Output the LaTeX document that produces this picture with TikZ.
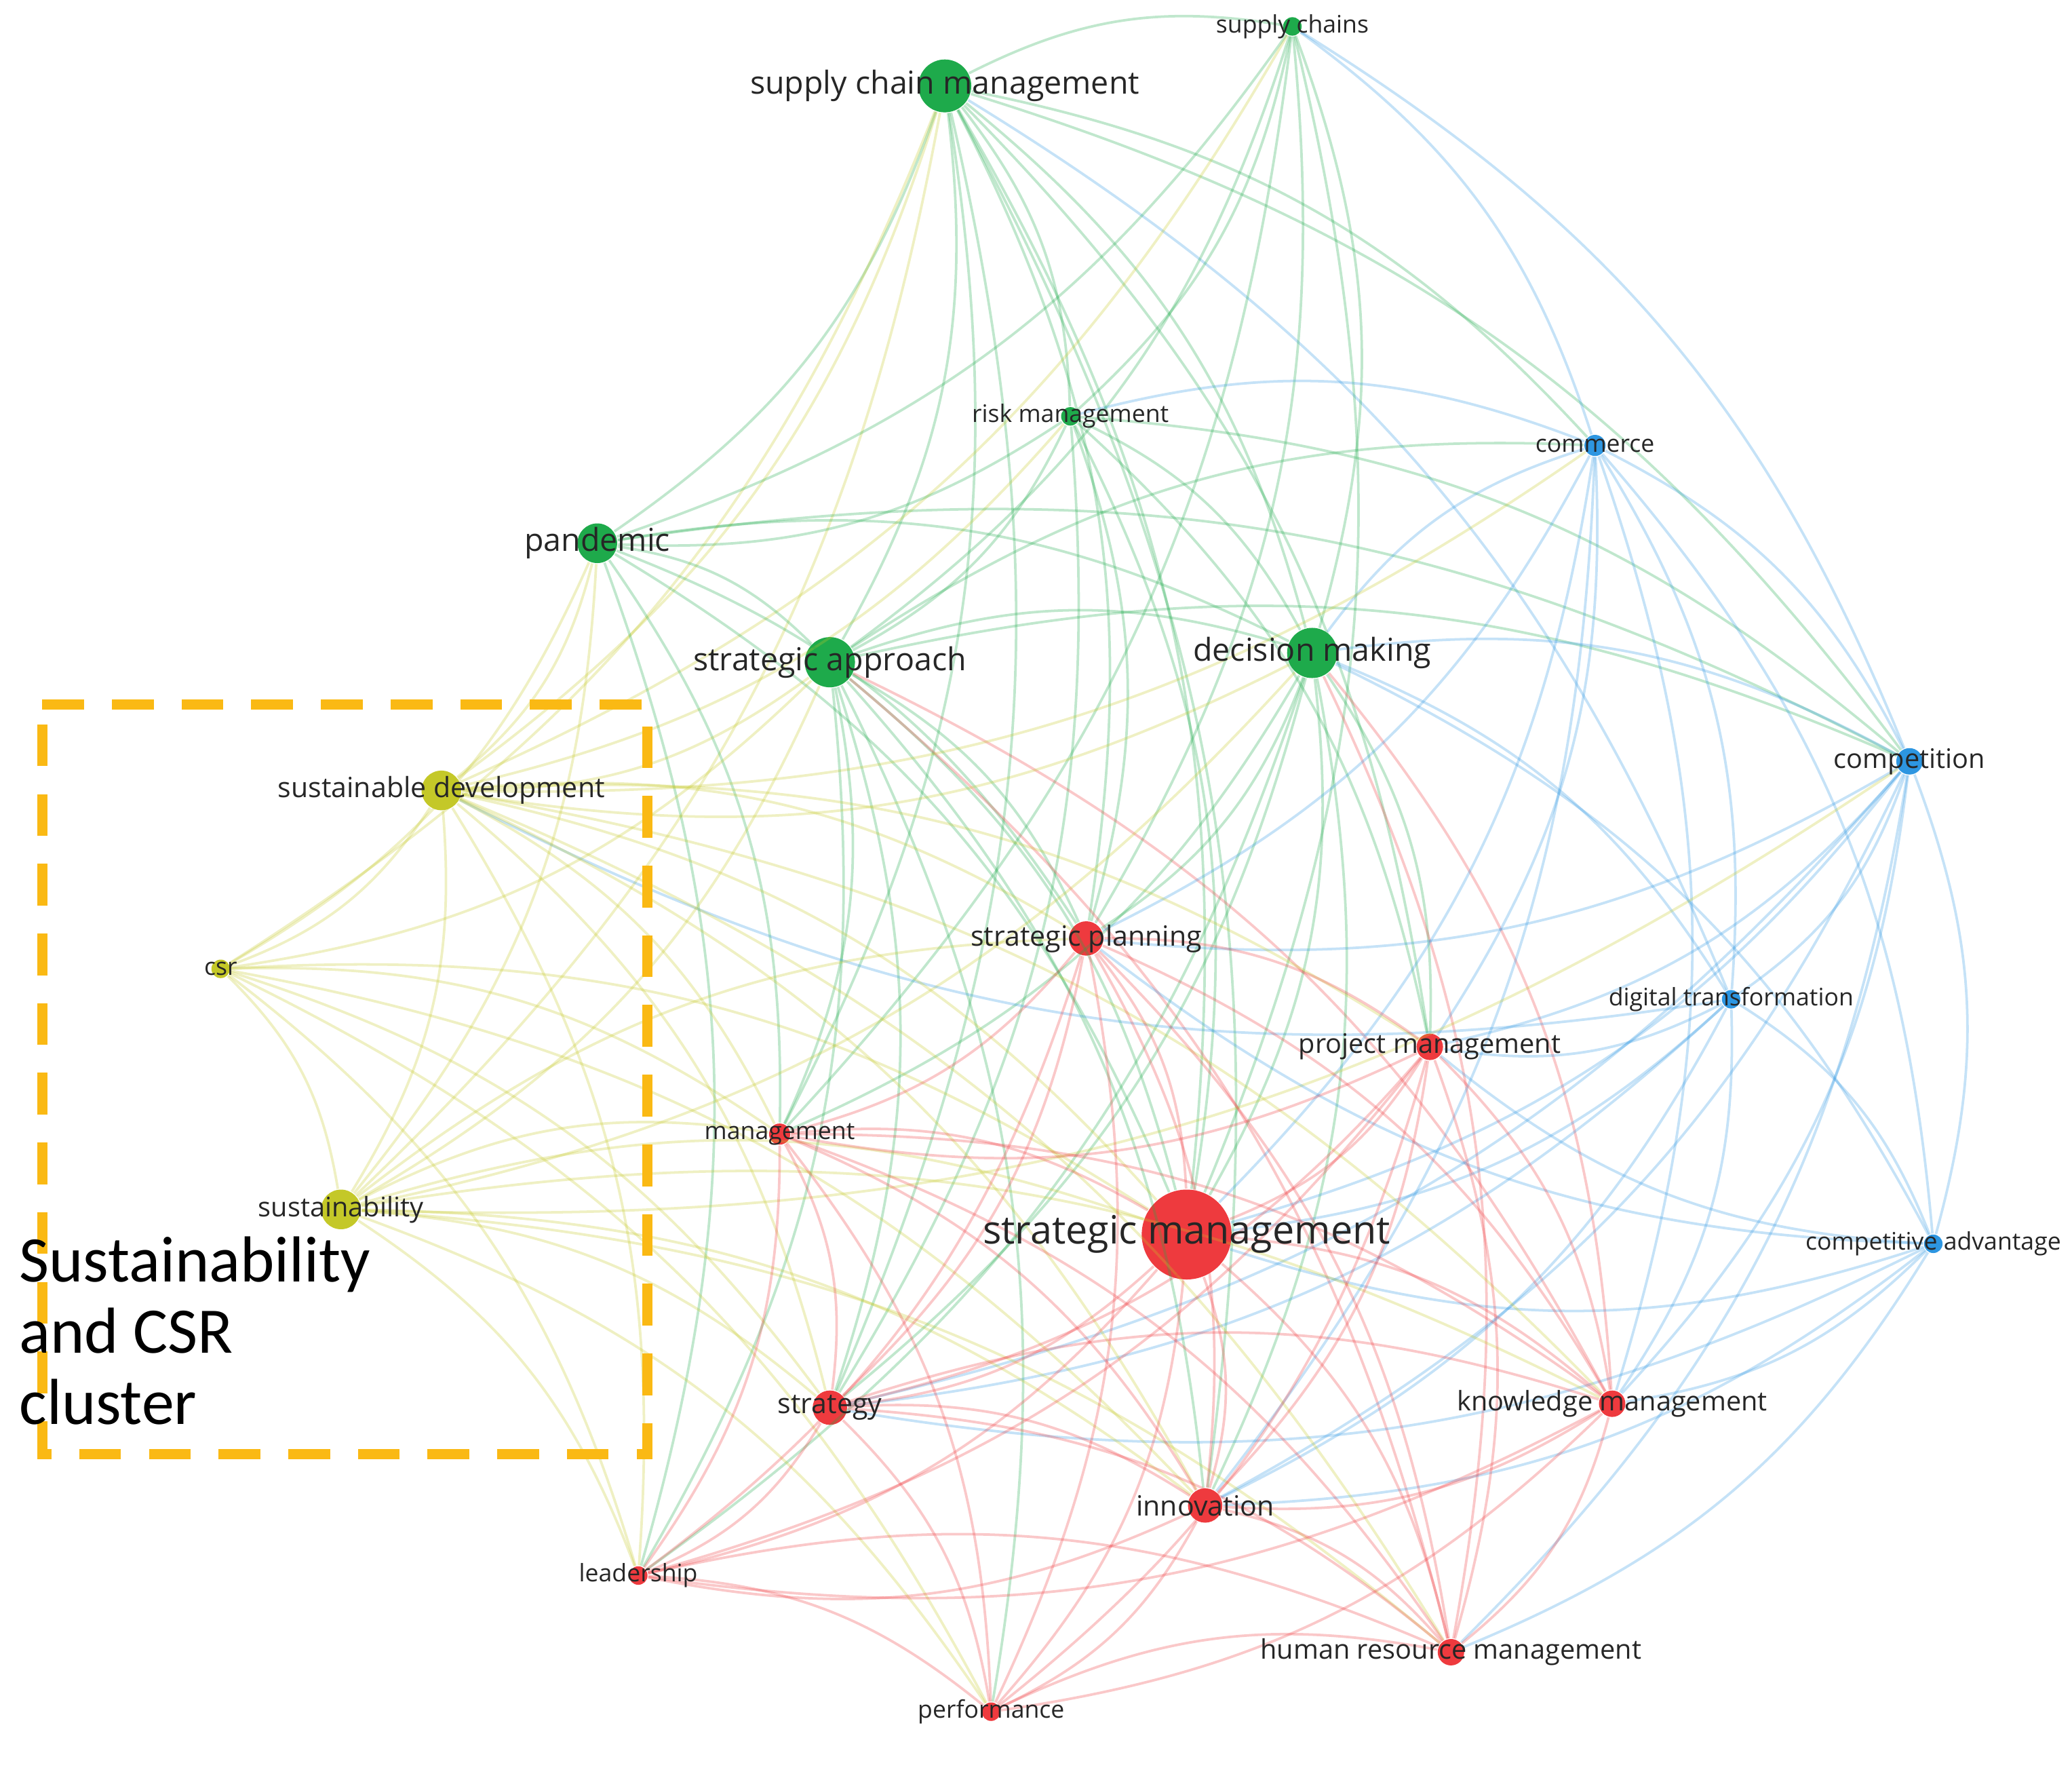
\documentclass[tikz,border=0pt]{standalone}
\usepackage{fontspec}
\setmainfont{Open Sans}
\newfontfamily\clusterfont{Carlito}
\definecolor{redc}{RGB}{238, 58, 62}
\definecolor{greenc}{RGB}{30, 170, 75}
\definecolor{bluec}{RGB}{45, 150, 225}
\definecolor{yellowc}{RGB}{196, 200, 40}
\definecolor{boxc}{RGB}{250, 185, 20}

\begin{document}
\begin{tikzpicture}[
        kw/.style={circle, inner sep=0pt, minimum size=#1},
        lab/.style={font=\fontsize{5.2}{6}\selectfont, text=black!85},
        biglab/.style={font=\fontsize{6.8}{8}\selectfont, text=black!85},
        edge/.style={#1, line width=0.55pt, opacity=0.28},
        box/.style={boxc, line width=2.2pt, dash pattern=on 9pt off 6pt}
    ]
        \useasboundingbox (0,0) rectangle (15.68,-13.42);

        % Keyword nodes
        \node[kw=0.40cm, fill=greenc] (scm) at (7.15,-0.65) {};
        \node[kw=0.14cm, fill=greenc] (sc) at (9.78,-0.20) {};
        \node[kw=0.14cm, fill=greenc] (risk) at (8.10,-3.15) {};
        \node[kw=0.16cm, fill=bluec] (comm) at (12.07,-3.37) {};
        \node[kw=0.30cm, fill=greenc] (pand) at (4.52,-4.11) {};
        \node[kw=0.38cm, fill=greenc] (sapp) at (6.28,-5.01) {};
        \node[kw=0.38cm, fill=greenc] (dec) at (9.93,-4.94) {};
        \node[kw=0.20cm, fill=bluec] (compet) at (14.45,-5.76) {};
        \node[kw=0.30cm, fill=yellowc] (sdev) at (3.34,-5.98) {};
        \node[kw=0.14cm, fill=yellowc] (csr) at (1.67,-7.33) {};
        \node[kw=0.26cm, fill=redc] (splan) at (8.22,-7.10) {};
        \node[kw=0.14cm, fill=bluec] (digi) at (13.10,-7.56) {};
        \node[kw=0.20cm, fill=redc] (proj) at (10.82,-7.92) {};
        \node[kw=0.16cm, fill=redc] (mgmt) at (5.90,-8.58) {};
        \node[kw=0.30cm, fill=yellowc] (sust) at (2.58,-9.15) {};
        \node[kw=0.68cm, fill=redc] (smgmt) at (8.98,-9.34) {};
        \node[kw=0.14cm, fill=bluec] (cadv) at (14.63,-9.41) {};
        \node[kw=0.26cm, fill=redc] (strat) at (6.28,-10.65) {};
        \node[kw=0.20cm, fill=redc] (know) at (12.20,-10.62) {};
        \node[kw=0.26cm, fill=redc] (innov) at (9.12,-11.39) {};
        \node[kw=0.14cm, fill=redc] (lead) at (4.83,-11.92) {};
        \node[kw=0.20cm, fill=redc] (hrm) at (10.98,-12.50) {};
        \node[kw=0.14cm, fill=redc] (perf) at (7.50,-12.95) {};

        % Links
        \foreach \a/\b/\c in {scm/sc/greenc, scm/risk/greenc, scm/pand/greenc, scm/sapp/greenc,
            scm/dec/greenc, scm/comm/greenc, scm/compet/greenc, scm/sdev/yellowc, scm/splan/greenc,
            scm/smgmt/greenc, scm/innov/greenc, scm/mgmt/greenc, scm/proj/greenc, scm/sust/yellowc,
            scm/csr/yellowc, scm/strat/greenc, scm/digi/bluec,
            sc/risk/greenc, sc/sapp/greenc, sc/dec/greenc, sc/pand/greenc, sc/comm/bluec,
            sc/compet/bluec, sc/smgmt/greenc, sc/splan/greenc, sc/mgmt/greenc, sc/sdev/yellowc,
            risk/pand/greenc, risk/sapp/greenc, risk/dec/greenc, risk/comm/bluec, risk/smgmt/greenc,
            risk/compet/greenc, risk/splan/greenc, risk/strat/greenc, risk/sdev/yellowc, risk/proj/greenc,
            pand/sapp/greenc, pand/dec/greenc, pand/sdev/yellowc, pand/sust/yellowc, pand/smgmt/greenc,
            pand/mgmt/greenc, pand/splan/greenc, pand/lead/greenc, pand/csr/yellowc, pand/compet/greenc,
            sapp/dec/greenc, sapp/sdev/yellowc, sapp/sust/yellowc, sapp/smgmt/greenc, sapp/strat/greenc,
            sapp/innov/greenc, sapp/compet/greenc, sapp/comm/greenc, sapp/splan/greenc, sapp/lead/greenc,
            sapp/know/redc, sapp/hrm/redc, sapp/csr/yellowc, sapp/mgmt/greenc, sapp/perf/greenc,
            dec/comm/bluec, dec/compet/bluec, dec/smgmt/greenc, dec/splan/greenc, dec/proj/greenc,
            dec/strat/greenc, dec/innov/greenc, dec/sust/yellowc, dec/sdev/yellowc, dec/digi/bluec,
            dec/cadv/bluec, dec/know/redc, dec/hrm/redc, dec/mgmt/greenc, dec/lead/greenc,
            comm/compet/bluec, comm/digi/bluec, comm/cadv/bluec, comm/smgmt/bluec, comm/proj/bluec,
            comm/know/bluec, comm/innov/bluec, comm/splan/bluec, comm/sdev/yellowc,
            compet/digi/bluec, compet/cadv/bluec, compet/smgmt/bluec, compet/proj/bluec,
            compet/know/bluec, compet/innov/bluec, compet/strat/bluec, compet/splan/bluec,
            compet/sust/yellowc, compet/hrm/bluec,
            digi/cadv/bluec, digi/smgmt/bluec, digi/proj/bluec, digi/know/bluec, digi/innov/bluec,
            digi/sdev/bluec, digi/strat/bluec,
            cadv/smgmt/bluec, cadv/know/bluec, cadv/innov/bluec, cadv/hrm/bluec, cadv/strat/bluec,
            cadv/proj/bluec, cadv/splan/bluec,
            sdev/csr/yellowc, sdev/sust/yellowc, sdev/smgmt/yellowc, sdev/strat/yellowc,
            sdev/mgmt/yellowc, sdev/splan/yellowc, sdev/innov/yellowc, sdev/lead/yellowc, sdev/proj/yellowc,
            sdev/know/yellowc, sdev/hrm/yellowc,
            csr/sust/yellowc, csr/smgmt/yellowc, csr/strat/yellowc, csr/lead/yellowc, csr/perf/yellowc,
            csr/mgmt/yellowc, csr/innov/yellowc,
            sust/smgmt/yellowc, sust/strat/yellowc, sust/mgmt/yellowc, sust/innov/yellowc,
            sust/lead/yellowc, sust/perf/yellowc, sust/splan/yellowc, sust/hrm/yellowc, sust/know/yellowc,
            splan/smgmt/redc, splan/proj/redc, splan/mgmt/redc, splan/strat/redc, splan/innov/redc,
            splan/know/redc, splan/hrm/redc, splan/lead/redc, splan/perf/redc,
            proj/smgmt/redc, proj/know/redc, proj/innov/redc, proj/hrm/redc, proj/strat/redc, proj/mgmt/redc,
            proj/lead/redc, proj/perf/redc,
            mgmt/smgmt/redc, mgmt/strat/redc, mgmt/innov/redc, mgmt/lead/redc, mgmt/perf/redc, mgmt/hrm/redc,
            mgmt/know/redc,
            smgmt/strat/redc, smgmt/know/redc, smgmt/innov/redc, smgmt/lead/redc, smgmt/hrm/redc,
            smgmt/perf/redc,
            strat/innov/redc, strat/lead/redc, strat/perf/redc, strat/hrm/redc, strat/know/redc,
            know/innov/redc, know/hrm/redc, know/perf/redc, know/lead/redc,
            innov/lead/redc, innov/hrm/redc, innov/perf/redc,
            lead/perf/redc, lead/hrm/redc, perf/hrm/redc}
            \draw[edge=\c] (\a) to[bend left=18] (\b);

        % Labels
        \node[biglab] (scml) at (scm) {supply chain management};
        \node[lab] (scl) at (sc) {supply chains};
        \node[lab] (riskl) at (risk) {risk management};
        \node[lab] (comml) at (comm) {commerce};
        \node[biglab] (pandl) at (pand) {pandemic};
        \node[biglab] (sappl) at (sapp) {strategic approach};
        \node[biglab] (decl) at (dec) {decision making};
        \node[lab, font=\fontsize{5.8}{7}\selectfont] (competl) at (compet) {competition};
        \node[lab, font=\fontsize{6}{7}\selectfont] (sdevl) at (sdev) {sustainable development};
        \node[lab] (csrl) at (csr) {csr};
        \node[lab, font=\fontsize{6}{7}\selectfont] (splanl) at (splan) {strategic planning};
        \node[lab] (digil) at (digi) {digital transformation};
        \node[lab, font=\fontsize{5.8}{7}\selectfont] (projl) at (proj) {project management};
        \node[lab] (mgmtl) at (mgmt) {management};
        \node[lab, font=\fontsize{5.8}{7}\selectfont] (sustl) at (sust) {sustainability};
        \node[font=\fontsize{8.4}{10}\selectfont, text=black!85] (smgmtl) at (smgmt) {strategic management};
        \node[lab] (cadvl) at (cadv) {competitive advantage};
        \node[lab, font=\fontsize{6}{7}\selectfont] (stratl) at (strat) {strategy};
        \node[lab, font=\fontsize{5.8}{7}\selectfont] (knowl) at (know) {knowledge management};
        \node[lab, font=\fontsize{6}{7}\selectfont] (innovl) at (innov) {innovation};
        \node[lab] (leadl) at (lead) {leadership};
        \node[lab, font=\fontsize{5.8}{7}\selectfont] (hrml) at (hrm) {human resource management};
        \node[lab] (perfl) at (perf) {performance};

        % Cluster box
        \coordinate (boxtl) at (0.32,-5.33);
        \coordinate (boxbr) at (4.90,-11.00);
        \draw[box] (boxtl) -| (boxbr) -| (boxtl);
        \node[anchor=north west, align=left, inner sep=0pt, font=\clusterfont\fontsize{14}{15.3}\selectfont]
            (cluster) at (0.14,-9.35) {Sustainability\\and CSR\\cluster};
    \end{tikzpicture}
\end{document}
